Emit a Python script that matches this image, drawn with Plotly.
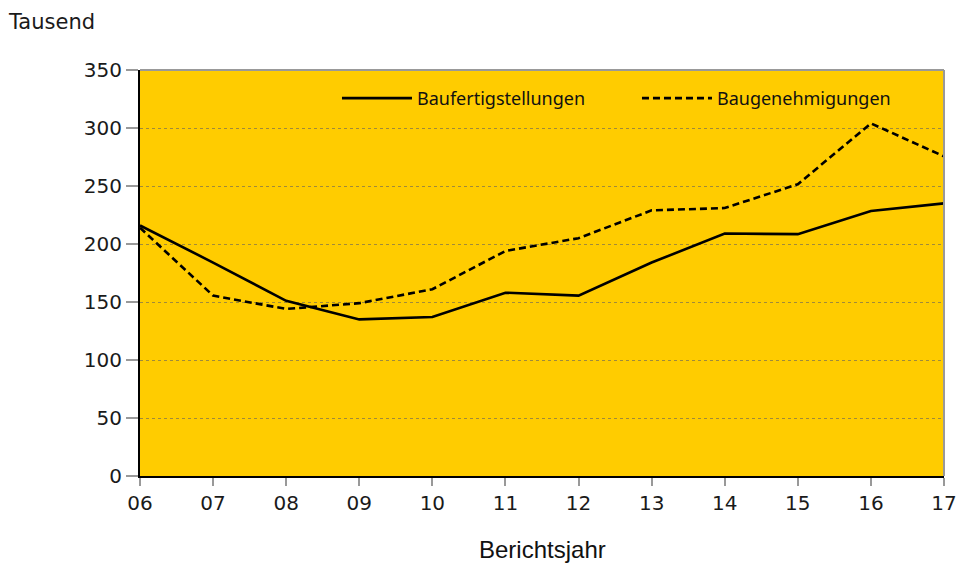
import plotly.graph_objects as go

years = ["06", "07", "08", "09", "10", "11", "12", "13", "14", "15", "16", "17"]
baufertigstellungen = [216, 184, 151, 135, 137, 158, 155.5, 184, 209, 208.5, 228.5, 235]
baugenehmigungen = [214, 155.5, 144, 149, 161, 194, 205, 229, 231, 251.5, 304, 275.5]
y_ticks = [0, 50, 100, 150, 200, 250, 300, 350]

fig = go.Figure()
fig.add_trace(go.Scatter(
    x=years, y=baufertigstellungen, mode="lines", name="Baufertigstellungen",
    line=dict(color="black", width=2.6)))
fig.add_trace(go.Scatter(
    x=years, y=baugenehmigungen, mode="lines", name="Baugenehmigungen",
    line=dict(color="black", width=2.6, dash="7px,4px")))

tickfont = dict(family="DejaVu Sans", size=20, color="#1a1a1a")

fig.update_layout(
    width=960, height=566,
    margin=dict(l=140, r=16, t=70, b=90),
    paper_bgcolor="white",
    plot_bgcolor="#FFCC00",
    showlegend=True,
    legend=dict(
        orientation="h", x=0.245, xanchor="left", y=0.93, yanchor="middle",
        bgcolor="rgba(0,0,0,0)", font=dict(family="Noto Sans", size=18, color="#111"),
        itemwidth=70, entrywidth=215, traceorder="normal"),
    xaxis=dict(
        type="category", range=[0, len(years) - 1], automargin=False,
        showgrid=False, showline=True, linecolor="black", linewidth=2,
        ticks="outside", ticklen=8, tickcolor="#999999", tickwidth=2,
        tickfont=tickfont, zeroline=False),
    yaxis=dict(
        range=[0, 350], tickvals=y_ticks, showgrid=True, automargin=False,
        gridcolor="#a08a3a", griddash="dot", gridwidth=1,
        showline=True, linecolor="black", linewidth=2,
        ticks="outside", ticklen=12, tickcolor="#999999", tickwidth=2,
        tickfont=tickfont, zeroline=False),
    shapes=[
        dict(type="line", xref="paper", yref="paper", x0=0, x1=1, y0=1, y1=1,
             line=dict(color="#999999", width=2)),
        dict(type="line", xref="paper", yref="paper", x0=1, x1=1, y0=0, y1=1,
             line=dict(color="#999999", width=2)),
    ],
    annotations=[
        dict(text="Tausend", xref="paper", yref="paper", x=-0.1667, y=1.118,
             xanchor="left", yanchor="middle", showarrow=False,
             font=dict(family="DejaVu Sans", size=21, color="#1a1a1a")),
        dict(text="Berichtsjahr", xref="paper", yref="paper", x=0.5, y=-0.182,
             xanchor="center", yanchor="middle", showarrow=False,
             font=dict(family="Liberation Sans", size=24, color="#111")),
    ],
)

fig.write_html("out.html",
               config={"displayModeBar": False},
               post_script="document.body.style.margin='0';document.body.style.overflow='hidden';")
